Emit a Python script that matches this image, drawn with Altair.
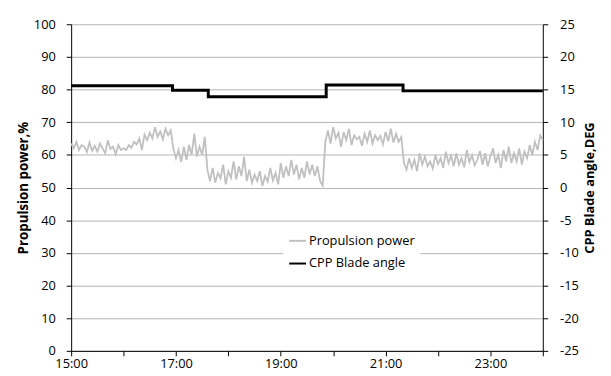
import altair as alt
import pandas as pd

FONT = "Open Sans"

# Propulsion power (%), one reading every 3 minutes starting at 15:00
power_step_minutes = 3
power_a = [63.5, 62.0, 64.0, 61.5, 63.0, 62.5, 60.8, 63.8, 61.2, 62.8,
           61.0, 63.5, 62.0, 60.5, 64.5, 61.8, 62.5, 60.2, 63.0, 61.5,
           62.0, 61.5, 63.0, 62.2, 64.0, 63.2, 65.0, 61.5, 66.2, 64.5,
           66.8, 65.0, 68.5, 65.5, 67.2, 64.8, 68.0, 66.0, 67.5]
power_b = [62.0, 59.0, 61.5, 57.8, 62.5, 58.5, 63.0, 60.0, 66.5, 59.5,
           62.5, 60.0, 65.5]
power_c = [55.5, 52.0, 56.0, 51.5, 54.5, 52.8, 57.0, 51.0, 55.0, 53.0,
           58.0, 52.5, 56.5, 53.5, 59.5, 52.0, 55.5, 51.5, 54.0, 52.0,
           55.0, 50.5, 53.5, 51.8, 56.0, 52.2, 54.5, 51.0, 57.5, 53.0,
           56.5, 53.5, 58.5, 54.0, 57.0, 52.5, 56.0, 53.0, 58.0, 54.0,
           57.0, 53.5, 56.5, 52.0, 50.5]
power_d = [64.0, 67.5, 63.5, 68.5, 65.0, 66.8, 62.5, 67.0, 64.5, 68.0,
           63.0, 66.0, 64.8, 65.5, 62.8, 66.5, 64.0, 67.5, 63.5, 66.0,
           64.5, 65.8, 63.2, 67.0, 64.2, 68.0, 63.8, 66.5, 64.0, 65.5]
power_e = [57.5, 55.5, 59.0, 56.0, 58.5, 55.0, 60.5, 57.0, 59.5, 56.5,
           58.0, 55.8, 60.0, 57.2, 59.0, 56.0, 61.0, 57.5, 59.8, 56.5,
           60.5, 57.0, 59.0, 56.2, 61.5, 57.8, 60.0, 56.8, 58.5, 61.2,
           57.0, 60.5, 56.5, 59.5, 62.0, 57.5, 60.0, 56.0, 61.5, 58.0,
           62.5, 57.5, 60.5, 58.0, 62.0, 57.0, 61.0, 59.0, 63.0, 60.0,
           64.0, 61.5, 66.0, 64.5]
power_values = power_a + power_b + power_c + power_d + power_e

# CPP blade angle (deg), step changes
blade_times = ["15:00", "16:56", "17:37", "19:52", "21:20", "24:00"]
blade_values = [15.6, 14.9, 13.9, 15.7, 14.8, 14.8]

series_names = ["Propulsion power", "CPP Blade angle"]
series_colors = ["#c0c0c0", "#000000"]


def to_hours(t):
    h, m = t.split(":")
    return int(h) + int(m) / 60


power_df = pd.DataFrame({
    "hour": [15 + i * power_step_minutes / 60 for i in range(len(power_values))],
    "value": power_values,
    "series": series_names[0],
})
blade_df = pd.DataFrame({
    "hour": [to_hours(t) for t in blade_times],
    "value": blade_values,
    "series": series_names[1],
})

x_axis = alt.Axis(
    values=list(range(15, 25)),
    labelExpr="datum.value % 2 == 1 ? format(datum.value, 'd') + ':00' : ''",
    title=None, grid=False, domainColor="black", tickColor="black",
    tickSize=5, labelPadding=2, labelFont=FONT, labelFontSize=13,
    labelColor="black", labelFlush=False,
)
x_enc = alt.X("hour:Q", scale=alt.Scale(domain=[15, 24], nice=False, zero=False), axis=x_axis)

color_enc = alt.Color(
    "series:N",
    scale=alt.Scale(domain=series_names, range=series_colors),
    legend=alt.Legend(
        title=None, orient="none", legendX=215, legendY=205,
        symbolType="stroke", symbolSize=289, symbolStrokeWidth=2,
        fillColor="white", padding=5, rowPadding=6, labelOffset=2,
        labelFont=FONT, labelFontSize=13, labelColor="black",
    ),
)

power = alt.Chart(power_df).mark_line(strokeWidth=1.8).encode(
    x=x_enc,
    y=alt.Y("value:Q", scale=alt.Scale(domain=[0, 100]),
            axis=alt.Axis(values=list(range(0, 101, 10)), title="Propulsion power,%",
                          grid=True, gridColor="#b4b4b4", gridWidth=1,
                          domainColor="black", tickColor="black", tickSize=5,
                          labelPadding=11, labelFont=FONT, labelFontSize=13,
                          labelColor="black", titleFont=FONT, titleFontSize=13.5,
                          titleFontWeight="bold", titleColor="black", titlePadding=3)),
    color=color_enc,
)

blade = alt.Chart(blade_df).mark_line(strokeWidth=3, interpolate="step-after").encode(
    x=x_enc,
    y=alt.Y("value:Q", scale=alt.Scale(domain=[-25, 25]),
            axis=alt.Axis(orient="right", values=list(range(-25, 26, 5)),
                          labelExpr="'' + datum.value",
                          title="CPP Blade angle,DEG", grid=False,
                          domainColor="black", tickColor="black", tickSize=5,
                          labelPadding=12, labelFont=FONT, labelFontSize=13,
                          labelColor="black", titleFont=FONT, titleFontSize=13,
                          titleFontWeight="bold", titleColor="black",
                          titleAngle=270, titleBaseline="top", titlePadding=5)),
    color=color_enc,
)

chart = alt.layer(power, blade).resolve_scale(y="independent").properties(
    width=478, height=331,
    autosize=alt.AutoSizeParams(type="none"),
    padding={"left": 64, "top": 14, "right": 61, "bottom": 23},
    background="white",
).configure_view(stroke=None)

chart.save("out.html", embed_options={"renderer": "svg", "actions": False})
